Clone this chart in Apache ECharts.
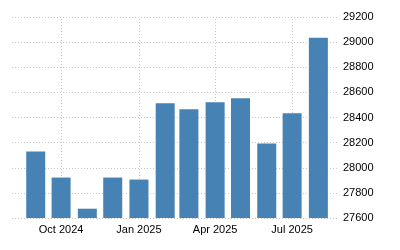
<!DOCTYPE html>
<html>
<head>
<meta charset="utf-8">
<script src="https://cdn.jsdelivr.net/npm/echarts@6/dist/echarts.min.js"></script>
<style>html,body{margin:0;padding:0;background:#fff}#c{width:400px;height:250px}</style>
</head>
<body>
<div id="c"></div>
<script>
const dates = ['2024-09-01','2024-10-01','2024-11-01','2024-12-01','2025-01-01','2025-02-01','2025-03-01','2025-04-01','2025-05-01','2025-06-01','2025-07-01','2025-08-01'];
const values = [28130, 27922, 27674, 27922, 27906, 28514, 28466, 28522, 28554, 28194, 28434, 29034];
const monthNames = ['Jan','Feb','Mar','Apr','May','Jun','Jul','Aug','Sep','Oct','Nov','Dec'];
const xTicks = ['2024-10-01', '2025-01-01', '2025-04-01', '2025-07-01'];
const yTicks = [27600, 27800, 28000, 28200, 28400, 28600, 28800, 29000, 29200];
// ECharts pads a time axis holding bars by half a bar on each side; these limits
// are chosen so the padded axis spans roughly 2024-08-04 .. 2025-08-23.
const xRange = ['2024-08-15T05:00:00', '2025-08-11T19:00:00'];

const chart = echarts.init(document.getElementById('c'), null, {renderer: 'canvas'});
const DAY = 86400000;
const gridLine = {color: '#c8c8c8', type: [1, 2], width: 1};
chart.setOption({
  animation: false,
  grid: {left: 12, right: 63, top: 17, bottom: 32, containLabel: false, outerBoundsMode: 'none'},
  xAxis: {
    type: 'time',
    min: xRange[0],
    max: xRange[1],
    minInterval: 91 * DAY,
    maxInterval: 92 * DAY,
    axisLine: {show: false},
    axisTick: {show: false},
    splitLine: {show: false},
    axisLabel: {
      showMinLabel: false,
      showMaxLabel: false,
      margin: 6,
      color: '#000',
      fontFamily: 'Liberation Sans, Arial, sans-serif',
      fontSize: 11,
      formatter: function (v) {
        const d = new Date(v);
        return monthNames[d.getMonth()] + ' ' + d.getFullYear();
      }
    }
  },
  yAxis: {
    type: 'value',
    position: 'right',
    min: yTicks[0],
    max: yTicks[yTicks.length - 1],
    interval: yTicks[1] - yTicks[0],
    axisLine: {show: false},
    axisTick: {show: false},
    splitLine: {show: true, lineStyle: gridLine},
    axisLabel: {
      margin: 6,
      color: '#000',
      fontFamily: 'Liberation Sans, Arial, sans-serif',
      fontSize: 11,
      formatter: function (v) { return String(v); }
    }
  },
  series: [{
    type: 'bar',
    barWidth: 19,
    itemStyle: {color: '#4682b4'},
    data: dates.map((d, i) => [d, values[i]]),
    markLine: {
      silent: true,
      symbol: 'none',
      label: {show: false},
      lineStyle: gridLine,
      z: 0,
      data: xTicks.map(t => ({xAxis: t}))
    }
  }]
});
</script>
</body>
</html>
